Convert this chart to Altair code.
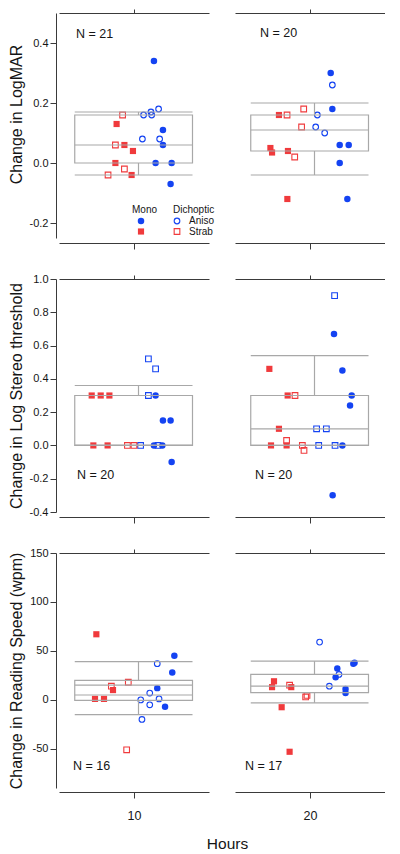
import altair as alt
import pandas as pd

BLUE = "#1443F2"
RED = "#F03A3C"
GREY = "#A8A8A8"
AXIS = "#3a3a3a"
TEXT = "#151515"
FONT = "Liberation Sans"

HOURS = ["10", "20"]
MEASURES = ["Change in LogMAR", "Change in Log Stereo threshold", "Change in Reading Speed (wpm)"]
Y_DOMAINS = [[-0.25, 0.5], [-0.4, 1.0], [-90, 150]]
Y_TICKS = [[-0.2, 0.0, 0.2, 0.4],
           [-0.4, -0.2, 0.0, 0.2, 0.4, 0.6, 0.8, 1.0],
           [-50, 0, 50, 100, 150]]
Y_FORMATS = [".1f", ".1f", "d"]
N_LABELS = [["N = 21", "N = 20"], ["N = 20", "N = 20"], ["N = 16", "N = 17"]]
GROUPS = ["Mono Aniso", "Dichoptic Aniso", "Mono Strab", "Dichoptic Strab"]
DICHOPTIC_ANISO_SHAPE = ["circle", "square", "circle"]

# ---- Change in LogMAR ----
LOGMAR_10_VALUES = {
    "Mono Aniso": [0.34, 0.11, 0.06, 0.0, 0.0, -0.07],
    "Dichoptic Aniso": [0.16, 0.17, 0.16, 0.18, 0.08, 0.08],
    "Mono Strab": [0.13, 0.06, 0.04, 0.0, -0.04],
    "Dichoptic Strab": [0.16, 0.06, -0.02, -0.04],
}
LOGMAR_10_JITTER = {
    "Mono Aniso": [0.633, 0.693, 0.693, 0.644, 0.751, 0.744],
    "Dichoptic Aniso": [0.564, 0.613, 0.618, 0.664, 0.556, 0.671],
    "Mono Strab": [0.384, 0.436, 0.493, 0.376, 0.484],
    "Dichoptic Strab": [0.424, 0.376, 0.436, 0.327],
}
LOGMAR_20_VALUES = {
    "Mono Aniso": [0.30, 0.18, 0.06, 0.06, 0.0, -0.12],
    "Dichoptic Aniso": [0.26, 0.16, 0.12, 0.10],
    "Mono Strab": [0.16, 0.05, 0.035, 0.04, -0.12],
    "Dichoptic Strab": [0.16, 0.18, 0.12, 0.02],
}
LOGMAR_20_JITTER = {
    "Mono Aniso": [0.638, 0.649, 0.698, 0.758, 0.698, 0.749],
    "Dichoptic Aniso": [0.649, 0.549, 0.538, 0.598],
    "Mono Strab": [0.293, 0.236, 0.247, 0.353, 0.349],
    "Dichoptic Strab": [0.347, 0.458, 0.444, 0.398],
}

# ---- Change in Log Stereo threshold ----
STEREO_10_VALUES = {
    "Mono Aniso": [0.30, 0.15, 0.15, 0.0, 0.0, -0.10],
    "Dichoptic Aniso": [0.52, 0.46, 0.30, 0.0, 0.0],
    "Mono Strab": [0.30, 0.30, 0.30, 0.0, 0.0],
    "Dichoptic Strab": [0.0, 0.0],
}
STEREO_10_JITTER = {
    "Mono Aniso": [0.644, 0.693, 0.744, 0.633, 0.689, 0.751],
    "Dichoptic Aniso": [0.596, 0.644, 0.596, 0.544, 0.66],
    "Mono Strab": [0.218, 0.278, 0.336, 0.229, 0.324],
    "Dichoptic Strab": [0.456, 0.5],
}
STEREO_20_VALUES = {
    "Mono Aniso": [0.67, 0.45, 0.30, 0.24, 0.0, -0.30],
    "Dichoptic Aniso": [0.90, 0.10, 0.10, 0.0, 0.0],
    "Mono Strab": [0.46, 0.30, 0.10, 0.0, 0.0],
    "Dichoptic Strab": [0.30, 0.03, 0.0, -0.03],
}
STEREO_20_JITTER = {
    "Mono Aniso": [0.66, 0.716, 0.778, 0.767, 0.716, 0.651],
    "Dichoptic Aniso": [0.664, 0.544, 0.609, 0.558, 0.667],
    "Mono Strab": [0.229, 0.351, 0.293, 0.24, 0.344],
    "Dichoptic Strab": [0.4, 0.344, 0.449, 0.46],
}

# ---- Change in Reading Speed (wpm) ----
READING_10_VALUES = {
    "Mono Aniso": [45, 28, 12, -7],
    "Dichoptic Aniso": [37, 7, 1, 0, -5, -20],
    "Mono Strab": [67, 1, 1, 10],
    "Dichoptic Strab": [14, 18, -51],
}
READING_10_JITTER = {
    "Mono Aniso": [0.769, 0.755, 0.655, 0.707],
    "Dichoptic Aniso": [0.655, 0.605, 0.667, 0.545, 0.605, 0.553],
    "Mono Strab": [0.249, 0.24, 0.3, 0.36],
    "Dichoptic Strab": [0.349, 0.462, 0.451],
}
READING_20_VALUES = {
    "Mono Aniso": [32, 23, 38, 37, 11, 7],
    "Dichoptic Aniso": [59, 26, 14],
    "Mono Strab": [19, 13, 13, -7.5, -53],
    "Dichoptic Strab": [15, 4.5, 3],
}
READING_20_JITTER = {
    "Mono Aniso": [0.682, 0.671, 0.797, 0.789, 0.737, 0.737],
    "Dichoptic Aniso": [0.564, 0.693, 0.629],
    "Mono Strab": [0.26, 0.247, 0.375, 0.311, 0.364],
    "Dichoptic Strab": [0.364, 0.48, 0.471],
}

PANEL_DATA = [
    [(LOGMAR_10_VALUES, LOGMAR_10_JITTER), (LOGMAR_20_VALUES, LOGMAR_20_JITTER)],
    [(STEREO_10_VALUES, STEREO_10_JITTER), (STEREO_20_VALUES, STEREO_20_JITTER)],
    [(READING_10_VALUES, READING_10_JITTER), (READING_20_VALUES, READING_20_JITTER)],
]

# box plot summaries [row][col]
BOX_LO = [[-0.04, -0.04], [0.0, 0.0], [-15, -3]]
BOX_Q1 = [[0.0, 0.04], [0.0, 0.0], [-0.5, 7.5]]
BOX_MED = [[0.06, 0.11], [0.0, 0.10], [5, 14]]
BOX_Q3 = [[0.16, 0.16], [0.30, 0.30], [20, 26]]
BOX_HI = [[0.17, 0.20], [0.36, 0.54], [39, 39.5]]
BOX_EXTRA = [[None, None], [None, None], [15, None]]

# styling constants
HEIGHTS = [225, 233, 235]
PANEL_W = 150
BOX_L, BOX_R, WHISKER_X = 0.105, 0.89, 0.53
N_POS = [[(17, 21), (25, 20)], [(18, 196), (20, 196)], [(14, 213), (10, 213)]]
TITLE_Y = [101, None, None]


def signed_label(fmt):
    return f"(datum.value < 0 ? '-' : '') + format(abs(datum.value), '{fmt}')"


def make_panel(r, c):
    vals, jit = PANEL_DATA[r][c]
    rows = []
    for g in GROUPS:
        for v, j in zip(vals[g], jit[g]):
            rows.append({"group": g, "jitter": j, "value": v})
    pts = pd.DataFrame(rows)
    xs = alt.Scale(domain=[0, 1], nice=False, zero=False)
    ys = alt.Scale(domain=Y_DOMAINS[r], nice=False, zero=False)

    # the same y axis spec is given to every layer so that the shared axis merges cleanly
    if c == 0:
        ykw = dict(orient="left", values=Y_TICKS[r], labelExpr=signed_label(Y_FORMATS[r]),
                   offset=3, tickSize=6, labelFontSize=11, labelPadding=2,
                   title=MEASURES[r], titleFontSize=16, titleFontWeight="normal",
                   titlePadding=5, grid=False, domainColor=AXIS, tickColor=AXIS,
                   labelColor=TEXT, titleColor=TEXT)
        if TITLE_Y[r] is not None:
            ykw["titleY"] = TITLE_Y[r]
        yaxis = alt.Axis(**ykw)
    else:
        yaxis = None

    bottom_axis = alt.Axis(orient="bottom", values=[0.5], labels=(r == 2),
                           labelExpr=f"'{HOURS[c]}'", labelFontSize=12.5, labelPadding=11,
                           labelColor=TEXT,
                           offset=5 if r < 2 else 4, tickSize=6, grid=False, title=None,
                           domainColor=AXIS, tickColor=AXIS)
    top_axis = alt.Axis(orient="top", values=[0.5], labels=False, offset=0, tickSize=4,
                        grid=False, title=None, domainColor=AXIS, tickColor=AXIS)

    def Y(field):
        return alt.Y(f"{field}:Q", scale=ys, axis=yaxis)

    marks = {
        "Mono Aniso": dict(shape="circle", filled=True, size=42, color=BLUE, opacity=1),
        "Dichoptic Aniso": dict(shape=DICHOPTIC_ANISO_SHAPE[r], filled=False, size=32,
                                color=BLUE, strokeWidth=1.1, opacity=1),
        "Mono Strab": dict(shape="square", filled=True, size=38, color=RED, opacity=1),
        "Dichoptic Strab": dict(shape="square", filled=False, size=32, color=RED,
                                strokeWidth=1.1, opacity=1),
    }

    # ---- scatter points + annotations (bottom x axis, left y axis) ----
    base = alt.Chart(pts)
    point_layers = []
    for g in GROUPS:
        point_layers.append(
            base.mark_point(**marks[g]).encode(
                x=alt.X("jitter:Q", scale=xs, axis=bottom_axis),
                y=Y("value"),
            ).transform_filter(alt.datum.group == g)
        )
    nx, ny = N_POS[r][c]
    point_layers.append(alt.Chart(pd.DataFrame({"label": [N_LABELS[r][c]]})).mark_text(
        align="left", baseline="middle", fontSize=12.5, font=FONT, color=TEXT).encode(
        x=alt.value(nx), y=alt.value(ny), text="label:N"))
    if r == 0 and c == 0:
        one = alt.Chart(pd.DataFrame({"k": [0]}))
        leg_text = [("Mono", 73, 197), ("Dichoptic", 114, 197),
                    ("Aniso", 130, 208), ("Strab", 130, 218.5)]
        for t, tx, ty in leg_text:
            point_layers.append(alt.Chart(pd.DataFrame({"label": [t]})).mark_text(
                align="left", baseline="middle", fontSize=10, font=FONT, color=TEXT).encode(
                x=alt.value(tx), y=alt.value(ty), text="label:N"))
        leg_marks = [(marks["Mono Aniso"], 82, 208), (marks["Mono Strab"], 82, 218.5),
                     (marks["Dichoptic Aniso"], 118, 208), (marks["Dichoptic Strab"], 118, 218.5)]
        for mk, mx, my in leg_marks:
            point_layers.append(one.mark_point(**mk).encode(x=alt.value(mx), y=alt.value(my)))
    scatter = alt.layer(*point_layers)

    # ---- box plot (top x axis) ----
    box = pd.DataFrame([{"lo": BOX_LO[r][c], "q1": BOX_Q1[r][c], "med": BOX_MED[r][c],
                         "q3": BOX_Q3[r][c], "hi": BOX_HI[r][c]}])
    bb = alt.Chart(box)
    rule_kw = dict(color=GREY, strokeWidth=1.2)
    box_layers = [bb.mark_rect(filled=False, color=GREY, strokeWidth=1.2).encode(
        x=alt.XDatum(BOX_L, type="quantitative", scale=xs, axis=top_axis),
        x2=alt.X2Datum(BOX_R),
        y=Y("q1"), y2="q3:Q")]
    for field in ["med", "lo", "hi"]:
        box_layers.append(bb.mark_rule(**rule_kw).encode(
            x=alt.XDatum(BOX_L, type="quantitative", scale=xs, axis=top_axis),
            x2=alt.X2Datum(BOX_R),
            y=Y(field)))
    if BOX_EXTRA[r][c] is not None:
        ex = pd.DataFrame({"v": [BOX_EXTRA[r][c]]})
        box_layers.append(alt.Chart(ex).mark_rule(**rule_kw).encode(
            x=alt.XDatum(BOX_L, type="quantitative", scale=xs, axis=top_axis),
            x2=alt.X2Datum(BOX_R),
            y=Y("v")))
    for a, b in [("q3", "hi"), ("lo", "q1")]:
        box_layers.append(bb.mark_rule(**rule_kw).encode(
            x=alt.XDatum(WHISKER_X, type="quantitative", scale=xs, axis=top_axis),
            y=Y(a), y2=f"{b}:Q"))
    boxplot = alt.layer(*box_layers)

    return alt.layer(scatter, boxplot).resolve_axis(x="independent").properties(
        width=PANEL_W, height=HEIGHTS[r])


charts = [make_panel(r, c) for r in range(3) for c in range(2)]

chart = alt.concat(
    *charts, columns=2, spacing={"row": 23, "column": 20}, align="each",
    title=alt.TitleParams("Hours", orient="bottom", anchor="middle", fontSize=15.5,
                          fontWeight="normal", font=FONT, color=TEXT, offset=15, dx=31),
).properties(padding=0).configure(font=FONT).configure_view(stroke=None)

chart.save("out.html", embed_options={"renderer": "svg", "actions": False})
